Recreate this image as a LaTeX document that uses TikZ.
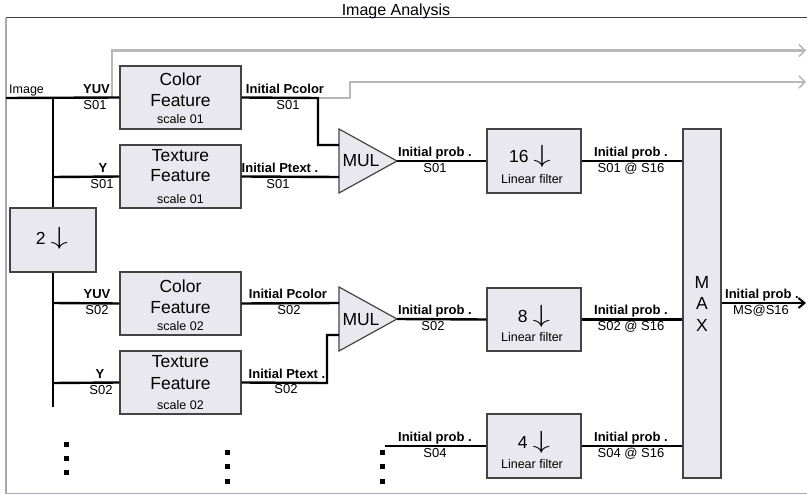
\documentclass[tikz,border=0pt]{standalone}
\usepackage{fontspec}
\setmainfont{Liberation Sans}
\usetikzlibrary{arrows.meta}
\definecolor{boxfill}{HTML}{E8E8EE}
\definecolor{boxline}{HTML}{444444}
\definecolor{grayline}{HTML}{B8B8B8}
\definecolor{framedark}{HTML}{3C3C5A}
\definecolor{framelight}{HTML}{A8A8BC}
\newcommand\fsz[1]{\fontsize{#1}{#1}\selectfont}
\newcommand\darr[1]{\scalebox{1.4}[1]{\fontsize{#1}{#1}\selectfont$\downarrow$}}
\begin{document}
\begin{tikzpicture}[x=1pt,y=-1pt,
  blk/.style={draw=boxline,fill=boxfill,line width=1.2pt,inner sep=0pt},
  conn/.style={line width=2.4pt,black},
  gconn/.style={line width=2.4pt,grayline},
  lb/.style={inner sep=0pt,anchor=base,font=\fsz{13}\bfseries},
  lr/.style={inner sep=0pt,anchor=base,font=\fsz{13}},
  big/.style={inner sep=0pt,anchor=base,font=\fsz{17.5}},
  sml/.style={inner sep=0pt,anchor=base,font=\fsz{12.5}},
  cen/.style={inner sep=0pt,anchor=center,font=\fsz{17.5}},
  gtip/.style={-{Straight Barb[length=6pt,width=12pt,line width=1.5pt]}},
  btip/.style={-{Straight Barb[length=6pt,width=10pt,line width=2pt]}}]
\useasboundingbox (0,0) rectangle (807,495);

% frame and title
\draw[framelight,line width=1.5pt] (6,18) -- (6,493.6) -- (807,493.6);
\draw[framedark,line width=1pt] (6,18) -- (807,18);
\node[inner sep=0pt,anchor=base,font=\fsz{16}] (title) at (396,15.7) {Image Analysis};

% boxes
\node[blk,minimum width=121pt,minimum height=63pt] (cf1) at (180.5,97.5) {};
\node[blk,minimum width=121pt,minimum height=63pt] (tf1) at (180.5,176.5) {};
\node[blk,minimum width=121pt,minimum height=63pt] (cf2) at (180.5,303.5) {};
\node[blk,minimum width=121pt,minimum height=63pt] (tf2) at (180.5,382.5) {};
\node[blk,minimum width=86pt,minimum height=64pt] (ds2) at (53,240) {};
\node[blk,minimum width=94pt,minimum height=64pt] (f16) at (534,161) {};
\node[blk,minimum width=94pt,minimum height=63pt] (f8) at (534,319.5) {};
\node[blk,minimum width=94pt,minimum height=64pt] (f4) at (534,446) {};
\node[blk,minimum width=38pt,minimum height=349pt] (mx) at (702,303.5) {};

% MUL triangles
\coordinate (m1top) at (339,129); \coordinate (m1bot) at (339,193); \coordinate (m1tip) at (397,161);
\coordinate (m2top) at (339,287); \coordinate (m2bot) at (339,351); \coordinate (m2tip) at (397,319);
\draw[blk] (m1top) -- (m1tip) -- (m1bot) -- cycle;
\draw[blk] (m2top) -- (m2tip) -- (m2bot) -- cycle;
\coordinate (m1in1) at (339,145); \coordinate (m1in2) at (339,177);
\coordinate (m2in1) at (339,303); \coordinate (m2in2) at (339,335);
\node[cen] (mul1) at (361,161) {MUL};
\node[cen] (mul2) at (361,320) {MUL};

% box texts
\node[big] (cf1a) at (180.5,85.7) {Color};
\node[big] (cf1b) at (180.5,106.7) {Feature};
\node[sml] (cf1c) at (180.5,123.3) {scale 01};
\node[big] (tf1a) at (180.5,161.7) {Texture};
\node[big] (tf1b) at (180.5,181.7) {Feature};
\node[sml] (tf1c) at (180.5,204) {scale 01};
\node[big] (cf2a) at (180.5,292.7) {Color};
\node[big] (cf2b) at (180.5,313.3) {Feature};
\node[sml] (cf2c) at (180.5,330) {scale 02};
\node[big] (tf2a) at (180.5,367.7) {Texture};
\node[big] (tf2b) at (180.5,389.3) {Feature};
\node[sml] (tf2c) at (180.5,409.3) {scale 02};
\node[cen] (ds2t) at (52,238) {2 \darr{23}};
\node[cen] (f16t) at (530,156) {16 \darr{25}};
\node[sml] (f16l) at (532,183) {Linear filter};
\node[cen] (f8t) at (534,316) {8 \darr{25}};
\node[sml] (f8l) at (532,341.7) {Linear filter};
\node[cen] (f4t) at (534,442) {4 \darr{25}};
\node[sml] (f4l) at (532,468.3) {Linear filter};
\node[cen] (mxm) at (702,282) {M};
\node[cen] (mxa) at (702,303) {A};
\node[cen] (mxx) at (702,325) {X};

% connectors
\coordinate (img) at (6,98);
\coordinate (bus1top) at (53,98);
\coordinate (bus2bot) at (53,407);
\coordinate (gsplit) at (112,98);
\coordinate (pc1turn) at (318,98);
\coordinate (g1end) at (806,50.5);
\coordinate (g2end) at (806,82);
\coordinate (s4) at (385,446);
\coordinate (outend) at (806,303);

\draw[gconn,gtip] (gsplit) -- (gsplit |- g1end) -- (g1end);
\draw[gconn,gtip] (pc1turn) -- (350,98) -- (350,82) -- (g2end);

\draw[conn] (img) -- (cf1.west);
\draw[conn] (bus1top) -- (ds2.north);
\draw[conn] (53,177) -- (tf1.west);
\draw[conn] (ds2.south) -- (bus2bot);
\draw[conn] (53,303) -- (cf2.west);
\draw[conn] (53,383) -- (tf2.west);
\draw[conn] (cf1.east) -- (pc1turn) -- (318,145) -- (m1in1);
\draw[conn] (tf1.east) -- (m1in2);
\draw[conn] (m1tip) -- (f16.west);
\draw[conn] (f16.east) -- (f16.east -| mx.west);
\draw[conn] (cf2.east) -- (m2in1);
\draw[conn] (tf2.east) -- (327,383) -- (327,335) -- (m2in2);
\draw[conn] (m2tip) -- (f8.west);
\draw[conn] (f8.east) -- (f8.east -| mx.west);
\draw[conn] (s4) -- (f4.west);
\draw[conn] (f4.east) -- (f4.east -| mx.west);
\draw[conn,btip] (mx.east |- outend) -- (outend);

% labels
\node[inner sep=0pt,anchor=base west,font=\fsz{12.5}] (limg) at (9,93.5) {Image};
\node[lb] (l1a) at (96.5,93.5) {YUV};
\node[lr] (l1b) at (95,109.5) {S01};
\node[lb] (l2a) at (103,172.5) {Y};
\node[lr] (l2b) at (102,188.5) {S01};
\node[lb] (l3a) at (285,93.5) {Initial Pcolor};
\node[lr] (l3b) at (288,109.5) {S01};
\node[lb] (l4a) at (280,172.5) {Initial Ptext .};
\node[lr] (l4b) at (278,188.5) {S01};
\node[lb] (l5a) at (435,156.5) {Initial prob .};
\node[lr] (l5b) at (435,172.5) {S01};
\node[lb] (l6a) at (631,156.5) {Initial prob .};
\node[lr] (l6b) at (631,172.5) {S01 @ S16};
\node[lb] (l7a) at (97,298.5) {YUV};
\node[lr] (l7b) at (97,314.5) {S02};
\node[lb] (l8a) at (100,378.5) {Y};
\node[lr] (l8b) at (101,394.5) {S02};
\node[lb] (l9a) at (288,298.5) {Initial Pcolor};
\node[lr] (l9b) at (289,314.5) {S02};
\node[lb] (l10a) at (287,378.5) {Initial Ptext .};
\node[lr] (l10b) at (286,393.5) {S02};
\node[lb] (l11a) at (435,314.5) {Initial prob .};
\node[lr] (l11b) at (433,330.5) {S02};
\node[lb] (l12a) at (631,314.5) {Initial prob .};
\node[lr] (l12b) at (631,330.5) {S02 @ S16};
\node[lb] (l13a) at (435,441.5) {Initial prob .};
\node[lr] (l13b) at (435,457.5) {S04};
\node[lb] (l14a) at (631,441.5) {Initial prob .};
\node[lr] (l14b) at (631,457.5) {S04 @ S16};
\node[lb] (l15a) at (762,298.5) {Initial prob .};
\node[lr] (l15b) at (761,314.5) {MS@S16};

% continuation dots
\foreach \yy in {444,458,472.5} \fill (63.5,\yy-2.5) rectangle ++(5,5);
\foreach \yy in {452,466,481} {\fill (224.5,\yy-2.5) rectangle ++(5,5);
  \fill (380,\yy-2.5) rectangle ++(5,5);}
\end{tikzpicture}
\end{document}
